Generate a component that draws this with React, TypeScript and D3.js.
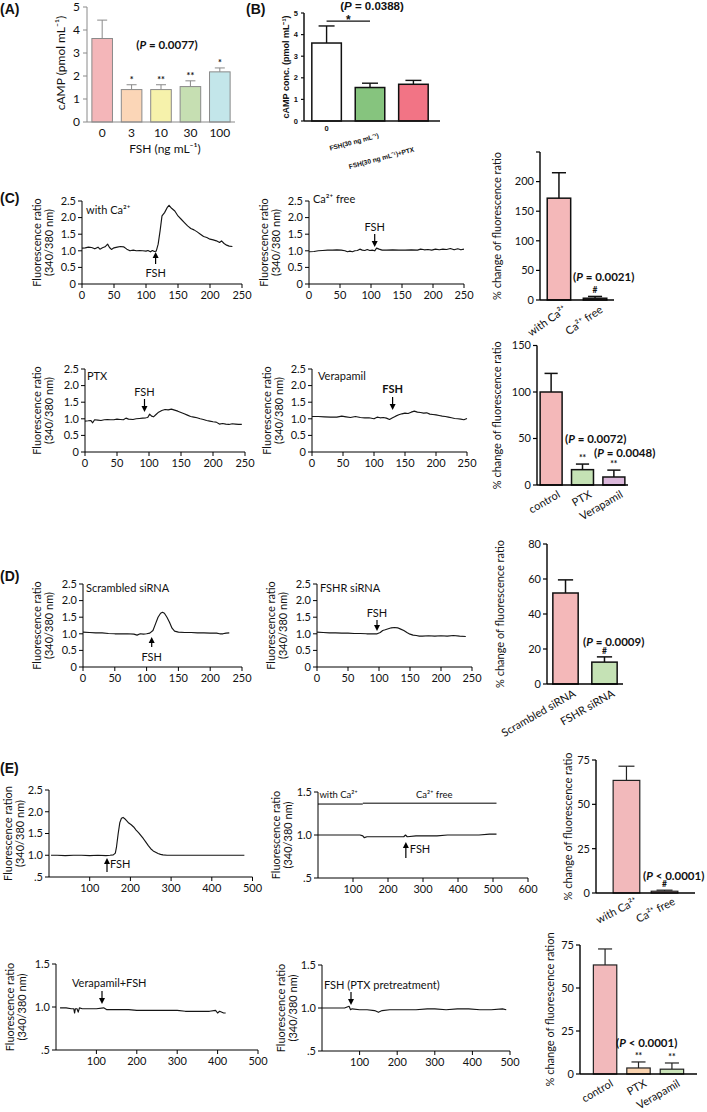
import React from 'react';
import * as d3 from 'd3';

type Pt = [number, number];

// ---------------- Panel A ----------------
const aCategories = ['0', '3', '10', '30', '100'];
const aMeans = [3.63, 1.41, 1.41, 1.54, 2.18];
const aErrors = [0.8, 0.21, 0.21, 0.25, 0.17];
const aMarks = ['', '*', '**', '**', '*'];
const aTicks = [0, 1, 2, 3, 4, 5];

// ---------------- Panel B ----------------
const bCategories = ['0', 'FSH(30 ng mL⁻¹)', 'FSH(30 ng mL⁻¹)+PTX'];
const bMeans = [3.61, 1.55, 1.7];
const bErrors = [0.79, 0.2, 0.18];
const bTicks = [0, 1, 2, 3, 4, 5];

// ---------------- Bar panels C, D, E ----------------
const c1Categories = ['with Ca²⁺', 'Ca²⁺ free'];
const c1Means = [172, 3];
const c1Errors = [43, 3];
const c1Marks = ['', '#'];
const c1Ticks = [0, 50, 100, 150, 200];

const c2Categories = ['control', 'PTX', 'Verapamil'];
const c2Means = [100, 16.5, 8.6];
const c2Errors = [20, 6, 7.4];
const c2Marks = ['', '**', '**'];
const c2Ticks = [0, 50, 100, 150];

const dCategories = ['Scrambled siRNA', 'FSHR siRNA'];
const dMeans = [52, 12.5];
const dErrors = [7.5, 3];
const dMarks = ['', '#'];
const dTicks = [0, 20, 40, 60, 80];

const e1Categories = ['with Ca²⁺', 'Ca²⁺ free'];
const e1Means = [63.5, 1];
const e1Errors = [8, 0.6];
const e1Marks = ['', '#'];

const e2Categories = ['control', 'PTX', 'Verapamil'];
const e2Means = [63.4, 3.5, 2.8];
const e2Errors = [9.3, 3.5, 3.6];
const e2Marks = ['', '**', '**'];
const eBarTicks = [0, 25, 50, 75];

// ---------------- Traces (time s, ratio) ----------------
const c1WithCa: Pt[] = [[0,1.08],[5,1.09],[10,1.11],[15,1.1],[20,1.06],[25,1.11],[28,1.05],[32,1.09],[36,1.12],[40,1.2],[43,1.1],[46,1.04],[50,1.09],[55,1.11],[60,1.13],[65,1.12],[70,1.05],[75,1.0],[80,1.02],[85,1.0],[90,1.01],[95,1.0],[100,0.99],[103,1.01],[107,0.97],[110,1.01],[113,0.98],[116,0.99],[119,1.2],[122,1.6],[125,2.05],[129,2.15],[133,2.3],[136,2.37],[140,2.28],[145,2.2],[150,2.05],[155,1.95],[160,1.85],[165,1.75],[170,1.67],[175,1.63],[180,1.57],[185,1.5],[190,1.43],[195,1.4],[200,1.35],[205,1.33],[210,1.3],[215,1.25],[218,1.3],[222,1.22],[226,1.17],[230,1.14],[235,1.13]];
const c1CaFree: Pt[] = [[0,0.97],[8,0.98],[15,1.0],[22,1.01],[30,1.02],[38,1.02],[45,1.03],[52,1.02],[58,1.0],[62,0.97],[66,0.99],[70,0.97],[74,1.0],[78,1.01],[82,1.05],[86,1.02],[90,1.01],[94,1.04],[98,1.01],[102,1.02],[106,1.0],[109,1.08],[113,1.05],[118,1.02],[125,1.02],[135,1.03],[145,1.02],[155,1.02],[165,1.03],[175,1.02],[180,1.05],[186,1.03],[192,1.04],[198,1.02],[204,1.05],[210,1.03],[216,1.05],[222,1.04],[228,1.07],[234,1.03],[240,1.06],[245,1.03],[250,1.05]];
const c2Ptx: Pt[] = [[0,0.93],[5,0.94],[9,0.95],[12,0.88],[15,0.97],[20,0.96],[25,0.95],[30,0.97],[35,0.98],[40,0.97],[45,0.97],[50,0.99],[55,0.98],[60,0.97],[64,1.02],[68,0.99],[75,0.98],[80,1.0],[85,1.01],[90,1.02],[95,1.03],[98,1.04],[101,1.14],[104,1.08],[107,1.06],[111,1.13],[115,1.2],[120,1.25],[125,1.28],[130,1.27],[135,1.29],[140,1.26],[145,1.23],[150,1.19],[155,1.15],[160,1.11],[165,1.07],[170,1.05],[175,1.03],[180,1.0],[185,0.98],[190,0.95],[195,0.93],[200,0.91],[205,0.9],[210,0.84],[215,0.86],[220,0.84],[225,0.83],[230,0.85],[235,0.84],[240,0.83],[245,0.83]];
const c2Verapamil: Pt[] = [[0,1.07],[10,1.07],[20,1.06],[30,1.05],[40,1.05],[48,1.08],[55,1.06],[62,1.04],[70,1.07],[78,1.04],[85,1.03],[92,1.03],[100,1.0],[105,1.05],[110,1.03],[115,1.04],[120,1.02],[125,0.98],[130,1.03],[135,1.08],[140,1.12],[145,1.15],[150,1.17],[155,1.16],[160,1.2],[165,1.23],[170,1.2],[175,1.19],[180,1.17],[185,1.18],[190,1.14],[195,1.13],[200,1.12],[205,1.1],[210,1.08],[215,1.07],[220,1.05],[225,1.03],[230,1.01],[235,1.0],[240,0.99],[245,0.97],[250,1.01]];
const dScrambled: Pt[] = [[0,1.05],[10,1.04],[20,1.03],[30,1.03],[40,1.01],[50,1.0],[60,1.0],[70,1.0],[80,0.99],[85,0.96],[90,1.0],[95,0.99],[100,1.0],[105,1.02],[110,1.1],[114,1.3],[118,1.5],[122,1.62],[125,1.65],[128,1.62],[132,1.5],[136,1.35],[140,1.17],[144,1.08],[150,1.05],[160,1.04],[170,1.04],[180,1.03],[190,1.03],[200,1.02],[210,1.02],[215,1.0],[220,1.0],[225,1.02],[230,1.03]];
const dFshr: Pt[] = [[0,1.05],[10,1.04],[20,1.03],[30,1.03],[40,1.02],[50,1.02],[60,1.01],[70,1.01],[80,1.0],[90,1.0],[97,1.0],[102,1.04],[106,1.1],[110,1.12],[115,1.15],[120,1.18],[125,1.19],[130,1.18],[135,1.14],[140,1.1],[145,1.04],[150,0.99],[155,0.96],[160,0.95],[165,0.93],[170,0.93],[180,0.94],[190,0.93],[200,0.94],[210,0.93],[220,0.95],[230,0.93],[240,0.92]];
const e1WithCa: Pt[] = [[5,1.0],[20,1.0],[40,0.99],[60,1.0],[80,1.0],[100,0.99],[120,1.0],[140,0.99],[150,1.0],[158,1.01],[163,1.05],[166,1.2],[170,1.5],[174,1.75],[178,1.85],[182,1.87],[186,1.84],[190,1.8],[196,1.74],[202,1.7],[208,1.65],[214,1.58],[220,1.52],[226,1.45],[232,1.38],[238,1.3],[244,1.22],[250,1.15],[256,1.1],[262,1.07],[268,1.04],[274,1.02],[280,1.01],[290,1.0],[300,1.0],[320,1.0],[340,1.0],[360,1.0],[380,1.0],[400,1.0],[420,1.0],[440,1.0],[460,1.0],[480,1.0]];
const e1Switch: Pt[] = [[0,1.0],[30,1.0],[60,1.0],[90,1.0],[120,1.0],[128,0.99],[132,0.97],[140,0.98],[160,0.98],[190,0.98],[220,0.98],[245,0.98],[250,1.0],[255,0.98],[280,0.99],[310,0.99],[340,0.99],[370,1.0],[400,1.0],[430,1.0],[460,1.0],[490,1.01],[510,1.01]];
const e2Verapamil: Pt[] = [[10,0.99],[25,0.99],[38,0.98],[44,0.98],[46,0.93],[48,0.98],[52,0.98],[55,0.94],[58,0.99],[65,0.98],[80,0.98],[100,0.98],[118,0.99],[125,0.97],[140,0.97],[160,0.97],[180,0.97],[200,0.96],[220,0.96],[240,0.96],[260,0.96],[280,0.96],[300,0.96],[320,0.95],[340,0.95],[360,0.95],[380,0.95],[395,0.96],[400,0.93],[405,0.95],[415,0.93],[420,0.93]];
const e2Ptx: Pt[] = [[0,1.0],[20,1.0],[40,1.0],[60,1.0],[72,1.02],[76,0.98],[80,0.99],[100,0.98],[120,0.98],[140,0.97],[150,0.95],[160,0.97],[180,0.98],[200,0.98],[220,0.98],[250,0.98],[280,0.99],[300,0.99],[330,0.98],[360,0.99],[390,0.99],[420,0.98],[450,0.98],[480,0.99],[490,0.98]];

const ratioTicksC = [0, 0.5, 1, 1.5, 2, 2.5];
const timeTicksC = [0, 50, 100, 150, 200, 250];
const ratioTicksE1 = [0.5, 1, 1.5, 2, 2.5];
const ratioTicksE = [0.5, 1, 1.5];
const timeTicksE = [100, 200, 300, 400, 500];
const timeTicksE600 = [100, 200, 300, 400, 500, 600];

// ---------------- styles ----------------
const LATO = 'Lato, "Open Sans", "DejaVu Sans", sans-serif';
const ARIAL = '"Liberation Sans", Arial, sans-serif';
const aColors = ['#f4b6b9', '#fbd6b7', '#f6f2ab', '#c6dfb2', '#c3e6ea'];
const bColors = ['#ffffff', '#86c47e', '#f27485'];
const PINK = '#f4b8b9';
const GREEN = '#c5e2b5';

const fmtC = (v: number) => (v === 0 ? '0' : v.toFixed(1));
const fmtE = (v: number) => (v === 0.5 ? '.5' : v.toFixed(1));

interface TraceSpec {
  data: Pt[];
  xDomain: [number, number];
  xPx: [number, number];
  yDomain: [number, number];
  yPx: [number, number];
  xTicks: number[];
  yTicks: number[];
  yFmt: (v: number) => string;
  ylab: [string, string];
  ylabX: [number, number];
}

function Trace({ s }: { s: TraceSpec }) {
  const x = d3.scaleLinear().domain(s.xDomain).range(s.xPx);
  const y = d3.scaleLinear().domain(s.yDomain).range(s.yPx);
  const line = d3.line<Pt>().x(d => x(d[0])).y(d => y(d[1]));
  const ax = s.xPx[0];
  const ay = s.yPx[0];
  const cy = (s.yPx[0] + s.yPx[1]) / 2;
  return (
    <g fontFamily={LATO} fontSize={11} fill="#111">
      <line x1={ax} x2={ax} y1={ay} y2={s.yPx[1]} stroke="#000" strokeWidth={1} />
      <line x1={ax} x2={s.xPx[1]} y1={ay} y2={ay} stroke="#000" strokeWidth={1} />
      {s.yTicks.map(t => (
        <g key={'y' + t}>
          <line x1={ax - 4} x2={ax} y1={y(t)} y2={y(t)} stroke="#000" />
          <text x={ax - 6} y={y(t)} dy="0.35em" textAnchor="end">{s.yFmt(t)}</text>
        </g>
      ))}
      {s.xTicks.map(t => (
        <g key={'x' + t}>
          <line x1={x(t)} x2={x(t)} y1={ay} y2={ay + 4} stroke="#000" />
          <text x={x(t)} y={ay + 15} textAnchor="middle">{t}</text>
        </g>
      ))}
      {[0, 1].map(i => (
        <text key={'l' + i} transform={`translate(${s.ylabX[i]},${cy}) rotate(-90)`} textAnchor="middle" dy="0.35em">
          {s.ylab[i]}
        </text>
      ))}
      <path d={line(s.data) || ''} fill="none" stroke="#151515" strokeWidth={1.15} strokeLinejoin="round" />
    </g>
  );
}

function Arrow({ x, from, to }: { x: number; from: number; to: number }) {
  const dir = to > from ? 1 : -1;
  return (
    <g>
      <line x1={x} x2={x} y1={from} y2={to - dir * 4} stroke="#000" strokeWidth={1.2} />
      <polygon points={`${x},${to} ${x - 3},${to - dir * 6} ${x + 3},${to - dir * 6}`} fill="#000" />
    </g>
  );
}

interface BarSpec {
  cats: string[];
  means: number[];
  errs: number[];
  marks: string[];
  colors: string[];
  xRange: [number, number];
  padIn: number;
  padOut: number;
  yDomain: [number, number];
  yPx: [number, number];
  ticks: number[];
  extraTicks?: number[];
  ylab: string;
  ylabX: number;
  labAngle: number;
  labDx: number;
  labY: number;
  stroke: string;
  sw: number;
}

function Bars({ s }: { s: BarSpec }) {
  const x = d3.scaleBand<string>().domain(s.cats).range(s.xRange).paddingInner(s.padIn).paddingOuter(s.padOut);
  const y = d3.scaleLinear().domain(s.yDomain).range(s.yPx);
  const ax = s.xRange[0];
  const bw = x.bandwidth();
  const cy = (s.yPx[0] + s.yPx[1]) / 2;
  return (
    <g fontFamily={LATO} fontSize={11} fill="#111">
      {s.cats.map((c, i) => {
        const cx = (x(c) as number) + bw / 2;
        const top = y(s.means[i]);
        const et = y(s.means[i] + s.errs[i]);
        return (
          <g key={c}>
            <line x1={cx} x2={cx} y1={top} y2={et} stroke={s.stroke} strokeWidth={s.sw} />
            <line x1={cx - bw * 0.3} x2={cx + bw * 0.3} y1={et} y2={et} stroke={s.stroke} strokeWidth={s.sw} />
            <rect x={x(c)} y={top} width={bw} height={y(0) - top} fill={s.colors[i]} stroke={s.stroke} strokeWidth={s.sw} />
            {s.marks[i] && (
              <text x={cx} y={et - 3} textAnchor="middle" fontSize={8.5} fontWeight="bold">{s.marks[i]}</text>
            )}
            <text transform={`translate(${cx + s.labDx},${s.labY}) rotate(${s.labAngle})`} textAnchor="end" dy="0.7em">{c}</text>
          </g>
        );
      })}
      <line x1={ax} x2={ax} y1={y(0)} y2={y(s.yDomain[1])} stroke="#000" strokeWidth={1.4} />
      <line x1={ax} x2={s.xRange[1]} y1={y(0)} y2={y(0)} stroke="#000" strokeWidth={1.4} />
      {s.ticks.map(t => (
        <g key={'t' + t}>
          <line x1={ax - 4} x2={ax} y1={y(t)} y2={y(t)} stroke="#000" strokeWidth={1.2} />
          <text x={ax - 6} y={y(t)} dy="0.35em" textAnchor="end">{t}</text>
        </g>
      ))}
      {(s.extraTicks || []).map(t => (
        <line key={'e' + t} x1={ax - 4} x2={ax} y1={y(t)} y2={y(t)} stroke="#000" strokeWidth={1.2} />
      ))}
      <text transform={`translate(${s.ylabX},${cy}) rotate(-90)`} textAnchor="middle" dy="0.35em">{s.ylab}</text>
    </g>
  );
}

function PanelA() {
  const x = d3.scaleBand<string>().domain(aCategories).range([86, 236]).paddingInner(0.3).paddingOuter(0.2);
  const y = d3.scaleLinear().domain([0, 5]).range([122, 7]);
  const bw = x.bandwidth();
  const grey = '#8a8a8a';
  return (
    <g fontFamily={LATO} fontSize={12} fill="#111">
      {aCategories.map((c, i) => {
        const cx = (x(c) as number) + bw / 2;
        const top = y(aMeans[i]);
        const et = y(aMeans[i] + aErrors[i]);
        return (
          <g key={c}>
            <line x1={cx} x2={cx} y1={top} y2={et} stroke={grey} />
            <line x1={cx - 5} x2={cx + 5} y1={et} y2={et} stroke={grey} />
            <rect x={x(c)} y={top} width={bw} height={y(0) - top} fill={aColors[i]} stroke={grey} />
            {aMarks[i] && <text x={cx} y={et - 2} textAnchor="middle" fontSize={9} fontWeight="bold">{aMarks[i]}</text>}
            <text x={cx} y={137} textAnchor="middle">{c}</text>
          </g>
        );
      })}
      <line x1={87} x2={87} y1={y(0)} y2={y(5)} stroke={grey} />
      <line x1={87} x2={235} y1={y(0)} y2={y(0)} stroke={grey} />
      {aTicks.map(t => (
        <g key={t}>
          <line x1={83} x2={87} y1={y(t)} y2={y(t)} stroke={grey} />
          <text x={80} y={y(t)} dy="0.35em" textAnchor="end">{t}</text>
        </g>
      ))}
      <text transform="translate(61,63) rotate(-90)" textAnchor="middle" dy="0.35em">cAMP (pmol mL⁻¹)</text>
      <text x={165} y={153} textAnchor="middle">FSH (ng  mL⁻¹)</text>
      <text x={167} y={49} textAnchor="middle" fontWeight="bold" fontSize={11.5}>
        (<tspan fontStyle="italic">P</tspan> = 0.0077)
      </text>
    </g>
  );
}

function PanelB() {
  const x = d3.scaleBand<string>().domain(bCategories).range([304, 436]).paddingInner(0.32).paddingOuter(0.18);
  const y = d3.scaleLinear().domain([0, 5]).range([121, 13]);
  const bw = x.bandwidth();
  const c0 = (x(bCategories[0]) as number) + bw / 2;
  const c1 = (x(bCategories[1]) as number) + bw / 2;
  const labelPos: [number, number][] = [[0, 0], [2, 133], [-6, 147]];
  return (
    <g fontFamily={ARIAL} fontWeight="bold" fill="#111">
      {bCategories.map((c, i) => {
        const cx = (x(c) as number) + bw / 2;
        const top = y(bMeans[i]);
        const et = y(bMeans[i] + bErrors[i]);
        return (
          <g key={c}>
            <line x1={cx} x2={cx} y1={top} y2={et} stroke="#111" strokeWidth={1.4} />
            <line x1={cx - 8} x2={cx + 8} y1={et} y2={et} stroke="#111" strokeWidth={1.4} />
            <rect x={x(c)} y={top} width={bw} height={y(0) - top} fill={bColors[i]} stroke="#111" strokeWidth={1.5} />
            {i === 0 ? (
              <text x={cx} y={131} textAnchor="middle" fontSize={7.5}>{c}</text>
            ) : (
              <text transform={`translate(${cx + 6 + labelPos[i][0]},${labelPos[i][1]}) rotate(-15)`} textAnchor="end" fontSize={6.6} dy="0.7em">{c}</text>
            )}
          </g>
        );
      })}
      <line x1={304} x2={304} y1={y(0)} y2={y(5)} stroke="#111" strokeWidth={1.5} />
      <line x1={304} x2={440} y1={y(0)} y2={y(0)} stroke="#111" strokeWidth={1.5} />
      {bTicks.map(t => (
        <g key={t}>
          <line x1={301} x2={304} y1={y(t)} y2={y(t)} stroke="#111" strokeWidth={1.2} />
          <text x={298} y={y(t)} dy="0.35em" textAnchor="end" fontSize={7.5}>{t}</text>
        </g>
      ))}
      <line x1={c0} x2={c1} y1={y(4.62)} y2={y(4.62)} stroke="#111" strokeWidth={1.2} />
      <text x={(c0 + c1) / 2} y={y(4.62) + 3} textAnchor="middle" fontSize={12}>*</text>
      <text transform="translate(286,67) rotate(-90)" textAnchor="middle" dy="0.35em" fontSize={9}>cAMP conc. (pmol mL⁻¹)</text>
      <text x={372} y={10} textAnchor="middle" fontSize={11.5}>
        (<tspan fontStyle="italic">P</tspan> = 0.0388)
      </text>
    </g>
  );
}

function PVal({ x, y, text, op = '=' }: { x: number; y: number; text: string; op?: string }) {
  return (
    <text x={x} y={y} fontFamily={LATO} fontWeight="bold" fontSize={11.5} fill="#111">
      (<tspan fontStyle="italic">P</tspan> {op} {text})
    </text>
  );
}

export default function App() {
  const sx = (d: [number, number], r: [number, number]) => d3.scaleLinear().domain(d).range(r);
  // scale used for placing annotations on the Ca2+ switch trace
  const e1r = { x: sx([0, 600], [318, 528]), y: sx([0.5, 1.5], [878, 792]) };

  const traces: TraceSpec[] = [
    { data: c1WithCa, xDomain: [0, 250], xPx: [82, 242], yDomain: [0, 2.5], yPx: [284, 201], xTicks: timeTicksC, yTicks: ratioTicksC, yFmt: fmtC, ylab: ['Fluorescence ratio', '(340/380 nm)'], ylabX: [37, 49] },
    { data: c1CaFree, xDomain: [0, 250], xPx: [309, 464], yDomain: [0, 2.5], yPx: [284, 201], xTicks: timeTicksC, yTicks: ratioTicksC, yFmt: fmtC, ylab: ['Fluorescence ratio', '(340/380 nm)'], ylabX: [264, 276] },
    { data: c2Ptx, xDomain: [0, 250], xPx: [85, 245], yDomain: [0, 2.5], yPx: [452, 369], xTicks: timeTicksC, yTicks: ratioTicksC, yFmt: fmtC, ylab: ['Fluorescence ratio', '(340/380 nm)'], ylabX: [37, 49] },
    { data: c2Verapamil, xDomain: [0, 250], xPx: [312, 467], yDomain: [0, 2.5], yPx: [452, 369], xTicks: timeTicksC, yTicks: ratioTicksC, yFmt: fmtC, ylab: ['Fluorescence ratio', '(340/380 nm)'], ylabX: [267, 279] },
    { data: dScrambled, xDomain: [0, 250], xPx: [83, 242], yDomain: [0, 2.5], yPx: [667, 584], xTicks: timeTicksC, yTicks: ratioTicksC, yFmt: fmtC, ylab: ['Fluorescence ratio', '(340/380 nm)'], ylabX: [37, 49] },
    { data: dFshr, xDomain: [0, 250], xPx: [317, 472], yDomain: [0, 2.5], yPx: [667, 584], xTicks: timeTicksC, yTicks: ratioTicksC, yFmt: fmtC, ylab: ['Fluorescence ratio', '(340/380 nm)'], ylabX: [271, 283] },
    { data: e1WithCa, xDomain: [0, 500], xPx: [49, 252.5], yDomain: [0.5, 2.5], yPx: [877, 790], xTicks: timeTicksE, yTicks: ratioTicksE1, yFmt: fmtE, ylab: ['Fluorescence ration', '(340/380 nm)'], ylabX: [8, 20] },
    { data: e1Switch, xDomain: [0, 600], xPx: [318, 528], yDomain: [0.5, 1.5], yPx: [878, 792], xTicks: timeTicksE600, yTicks: ratioTicksE, yFmt: fmtE, ylab: ['Fluorescence ratio', '(340/380 nm)'], ylabX: [276, 288] },
    { data: e2Verapamil, xDomain: [0, 500], xPx: [56, 258], yDomain: [0.5, 1.5], yPx: [1050, 964], xTicks: timeTicksE, yTicks: ratioTicksE, yFmt: fmtE, ylab: ['Fluorescence ratio', '(340/380 nm)'], ylabX: [10, 22] },
    { data: e2Ptx, xDomain: [0, 500], xPx: [322, 510], yDomain: [0.5, 1.5], yPx: [1051, 965], xTicks: timeTicksE, yTicks: ratioTicksE, yFmt: fmtE, ylab: ['Fluorescence ratio', '(340/380 nm)'], ylabX: [281, 293] },
  ];

  const bars: BarSpec[] = [
    { cats: c1Categories, means: c1Means, errs: c1Errors, marks: c1Marks, colors: [PINK, PINK], xRange: [540, 614], padIn: 0.35, padOut: 0.2, yDomain: [0, 250], yPx: [300, 152], ticks: c1Ticks, extraTicks: [250], ylab: '% change of fluorescence ratio', ylabX: 497, labAngle: -35, labDx: 4, labY: 305, stroke: '#111', sw: 1.5 },
    { cats: c2Categories, means: c2Means, errs: c2Errors, marks: c2Marks, colors: [PINK, GREEN, '#dbb8db'], xRange: [537, 628], padIn: 0.3, padOut: 0.1, yDomain: [0, 150], yPx: [485, 345.5], ticks: c2Ticks, ylab: '% change of fluorescence ratio', ylabX: 497, labAngle: -30, labDx: 6, labY: 490, stroke: '#111', sw: 1.5 },
    { cats: dCategories, means: dMeans, errs: dErrors, marks: dMarks, colors: [PINK, GREEN], xRange: [547, 623], padIn: 0.35, padOut: 0.15, yDomain: [0, 80], yPx: [684, 544], ticks: dTicks, ylab: '% change of fluorescence ratio', ylabX: 500, labAngle: -30, labDx: 7, labY: 689, stroke: '#111', sw: 1.5 },
    { cats: e1Categories, means: e1Means, errs: e1Errors, marks: e1Marks, colors: ['#f2b9bb', '#f2b9bb'], xRange: [596, 695], padIn: 0.3, padOut: 0.45, yDomain: [0, 75], yPx: [893, 760], ticks: eBarTicks, ylab: '% change of fluorescence ratio', ylabX: 568, labAngle: -27, labDx: 8, labY: 897, stroke: '#222', sw: 1.2 },
    { cats: e2Categories, means: e2Means, errs: e2Errors, marks: e2Marks, colors: ['#f2b9bb', '#f9d2ae', '#c9e3b8'], xRange: [580, 697], padIn: 0.3, padOut: 0.4, yDomain: [0, 75], yPx: [1074, 945], ticks: eBarTicks, ylab: '% change of fluorescence ration', ylabX: 550, labAngle: -30, labDx: 5, labY: 1079, stroke: '#222', sw: 1.2 },
  ];

  return (
    <div style={{ position: 'absolute', left: 0, top: 0 }}>
      <svg width={707} height={1112} viewBox="0 0 707 1112" style={{ display: 'block', background: '#fff' }}>
        <g fontFamily={ARIAL} fontWeight="bold" fontSize={14} fill="#111">
          <text x={0} y={14}>(A)</text>
          <text x={246} y={14}>(B)</text>
          <text x={0} y={203}>(C)</text>
          <text x={0} y={581}>(D)</text>
          <text x={0} y={773}>(E)</text>
        </g>
        <PanelA />
        <PanelB />
        {traces.map((t, i) => <Trace key={i} s={t} />)}
        {bars.map((b, i) => <Bars key={'b' + i} s={b} />)}

        <g fontFamily={LATO} fontSize={11} fill="#111">
          <text x={86} y={214}>with Ca²⁺</text>
          <Arrow x={155.6} from={264} to={252} />
          <text x={155.6} y={277} textAnchor="middle">FSH</text>

          <text x={313} y={203}>Ca²⁺ free</text>
          <text x={374.7} y={231} textAnchor="middle">FSH</text>
          <Arrow x={374.7} from={234} to={247} />

          <text x={87} y={380}>PTX</text>
          <text x={144.5} y={396} textAnchor="middle">FSH</text>
          <Arrow x={144.5} from={399} to={412} />

          <text x={318} y={380}>Verapamil</text>
          <text x={392.6} y={393} textAnchor="middle" fontWeight="bold">FSH</text>
          <Arrow x={392.6} from={397} to={410} />

          <text x={86} y={592}>Scrambled siRNA</text>
          <Arrow x={151.7} from={647} to={637} />
          <text x={151.7} y={661} textAnchor="middle">FSH</text>

          <text x={320} y={592}>FSHR siRNA</text>
          <text x={377} y={617} textAnchor="middle">FSH</text>
          <Arrow x={377} from={620} to={631} />

          <Arrow x={107} from={872} to={858} />
          <text x={110} y={868}>FSH</text>

          <text x={e1r.x(4)} y={e1r.y(1.43)} fontSize={9.5}>with Ca²⁺</text>
          <line x1={e1r.x(0)} x2={e1r.x(128)} y1={e1r.y(1.36)} y2={e1r.y(1.36)} stroke="#000" />
          <text x={e1r.x(280)} y={e1r.y(1.43)} fontSize={9.5}>Ca²⁺ free</text>
          <line x1={e1r.x(128)} x2={e1r.x(510)} y1={e1r.y(1.37)} y2={e1r.y(1.37)} stroke="#000" />
          <Arrow x={e1r.x(251)} from={858} to={842} />
          <text x={e1r.x(251) + 4} y={853}>FSH</text>

          <text x={72} y={987}>Verapamil+FSH</text>
          <Arrow x={102} from={991} to={1004} />
          <text x={324} y={989}>FSH (PTX pretreatment)</text>
          <Arrow x={351} from={992} to={1005} />
        </g>

        <PVal x={573} y={281} text="0.0021" />
        <PVal x={565} y={443} text="0.0072" />
        <PVal x={594} y={457} text="0.0048" />
        <PVal x={583} y={646} text="0.0009" />
        <PVal x={643} y={880} text="0.0001" op="<" />
        <PVal x={616} y={1047} text="0.0001" op="<" />
      </svg>
    </div>
  );
}
